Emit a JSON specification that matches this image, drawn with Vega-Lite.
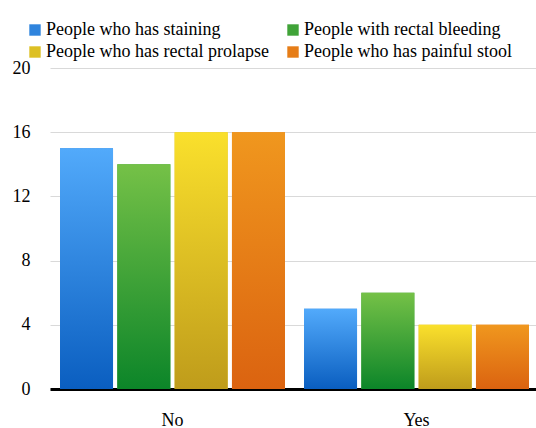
{
  "$schema": "https://vega.github.io/schema/vega-lite/v6.json",
  "autosize": {"type": "none"},
  "width": 489,
  "height": 321,
  "padding": {"left": 50, "top": 68, "right": 0, "bottom": 39},
  "config": {
    "view": {"stroke": null}
  },
  "data": {
    "values": [
      {"answer": "No", "group": "People who has staining", "count": 15},
      {"answer": "No", "group": "People with rectal bleeding", "count": 14},
      {"answer": "No", "group": "People who has rectal prolapse", "count": 16},
      {"answer": "No", "group": "People who has painful stool", "count": 16},
      {"answer": "Yes", "group": "People who has staining", "count": 5},
      {"answer": "Yes", "group": "People with rectal bleeding", "count": 6},
      {"answer": "Yes", "group": "People who has rectal prolapse", "count": 4},
      {"answer": "Yes", "group": "People who has painful stool", "count": 4}
    ]
  },
  "encoding": {
    "x": {
      "field": "answer", "type": "nominal", "title": null,
      "scale": {"domain": ["No", "Yes"], "paddingInner": 0.078, "paddingOuter": 0.041},
      "axis": {"labelAngle": 0, "ticks": false, "domainColor": "#000", "domainWidth": 3, "labelPadding": 22, "labelFont": "Liberation Serif", "labelFontSize": 18, "labelColor": "#000"}
    },
    "xOffset": {
      "field": "group", "type": "nominal",
      "scale": {"domain": ["People who has staining", "People with rectal bleeding", "People who has rectal prolapse", "People who has painful stool"], "paddingInner": 0.075, "paddingOuter": 0}
    },
    "y": {
      "field": "count", "type": "quantitative", "title": null,
      "scale": {"domain": [0, 20]},
      "axis": {"values": [0, 4, 8, 12, 16, 20], "domain": false, "ticks": false, "gridColor": "#d9d9d9", "gridWidth": 1, "labelPadding": 20, "labelFont": "Liberation Serif", "labelFontSize": 18, "labelColor": "#000"}
    }
  },
  "layer": [
    {
      "mark": {"type": "bar"},
      "encoding": {
        "color": {
          "field": "group", "type": "nominal", "title": null,
          "scale": {
            "domain": ["People who has staining", "People with rectal bleeding", "People who has rectal prolapse", "People who has painful stool"],
            "range": ["#2f84dd", "#40a338", "#ddc024", "#e67d17"]
          },
          "legend": {
            "orient": "none", "direction": "horizontal", "legendX": -24, "legendY": -47, "columns": 2, "columnPadding": 15, "rowPadding": 4,
            "symbolType": "square", "symbolSize": 130, "symbolStrokeWidth": 0, "labelOffset": 2,
            "labelFont": "Liberation Serif", "labelFontSize": 18, "labelColor": "#000", "labelLimit": 400
          }
        }
      }
    },
    {
      "transform": [{"filter": "datum.group === 'People who has staining'"}],
      "mark": {"type": "bar", "color": {"gradient": "linear", "x1": 0, "y1": 0, "x2": 0, "y2": 1, "stops": [{"offset": 0, "color": "#52aafb"}, {"offset": 1, "color": "#0a5ec0"}]}}
    },
    {
      "transform": [{"filter": "datum.group === 'People with rectal bleeding'"}],
      "mark": {"type": "bar", "color": {"gradient": "linear", "x1": 0, "y1": 0, "x2": 0, "y2": 1, "stops": [{"offset": 0, "color": "#75c147"}, {"offset": 1, "color": "#0c8529"}]}}
    },
    {
      "transform": [{"filter": "datum.group === 'People who has rectal prolapse'"}],
      "mark": {"type": "bar", "color": {"gradient": "linear", "x1": 0, "y1": 0, "x2": 0, "y2": 1, "stops": [{"offset": 0, "color": "#fae02c"}, {"offset": 1, "color": "#bf9c1b"}]}}
    },
    {
      "transform": [{"filter": "datum.group === 'People who has painful stool'"}],
      "mark": {"type": "bar", "color": {"gradient": "linear", "x1": 0, "y1": 0, "x2": 0, "y2": 1, "stops": [{"offset": 0, "color": "#f0971e"}, {"offset": 1, "color": "#db6310"}]}}
    }
  ]
}
